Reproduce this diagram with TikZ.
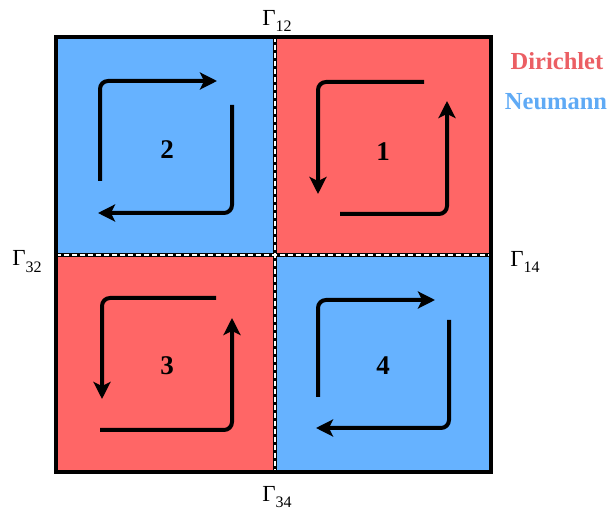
\documentclass[tikz,border=0pt]{standalone}
\usepackage{fontspec}
\setmainfont{Liberation Serif}
\usetikzlibrary{arrows.meta}
\definecolor{dred}{RGB}{255,102,102}
\definecolor{nblue}{RGB}{102,178,255}
\definecolor{dtext}{RGB}{235,95,100}
\definecolor{ntext}{RGB}{95,170,245}
\newcommand{\gsub}[1]{Γ\raisebox{-0.3em}{\fontsize{16}{16}\selectfont #1}}
\begin{document}
\begin{tikzpicture}[x=1pt,y=-1pt,
  flow/.style={line width=4pt, rounded corners=8pt, -{Stealth[length=17pt,width=17pt,inset=4pt]}},
  divline/.style={line width=4pt, black},
  divdash/.style={line width=1.5pt, white, dash pattern=on 5pt off 3pt},
  num/.style={font=\fontsize{27}{27}\selectfont\bfseries},
  glabel/.style={font=\fontsize{23}{23}\selectfont, inner sep=0pt},
  legend/.style={font=\fontsize{24.5}{25}\selectfont\bfseries, inner sep=0pt}]
\useasboundingbox (0,0) rectangle (611,510);
% quadrants
\fill[nblue] (56,37) rectangle (275,255);
\fill[dred] (275,37) rectangle (491,255);
\fill[dred] (56,255) rectangle (275,472);
\fill[nblue] (275,255) rectangle (491,472);
% interfaces
\draw[divline] (275,37) -- (275,472);
\draw[divline] (56,255) -- (491,255);
\draw[divdash] (275,37) -- (275,472);
\draw[divdash] (56,255) -- (491,255);
% border
\draw[line width=4pt] (56,37) rectangle (491,472);
% quadrant 2
\draw[flow] (100,181) -- (100,81) -- (217,81);
\draw[flow] (232,105) -- (232,213) -- (98,213);
% quadrant 1
\draw[flow] (424,82) -- (318,82) -- (318,194);
\draw[flow] (340,214) -- (447,214) -- (447,101);
% quadrant 3
\draw[flow] (216,298) -- (102,298) -- (102,399);
\draw[flow] (100,430) -- (232,430) -- (232,318);
% quadrant 4
\draw[flow] (318,397) -- (318,300) -- (435,300);
\draw[flow] (449,320) -- (449,428) -- (316,428);
% numbers
\node[num] (n1) at (383,152) {1};
\node[num] (n2) at (167,150) {2};
\node[num] (n3) at (167,366) {3};
\node[num] (n4) at (383,366) {4};
% boundary labels
\node[glabel] (g12) at (277,21) {\gsub{12}};
\node[glabel] (g32) at (27,262) {\gsub{32}};
\node[glabel] (g14) at (525,262) {\gsub{14}};
\node[glabel] (g34) at (277,497) {\gsub{34}};
% legend
\node[legend, text=dtext] (dir) at (557,61) {Dirichlet};
\node[legend, text=ntext] (neu) at (556,102) {Neumann};
\end{tikzpicture}
\end{document}
